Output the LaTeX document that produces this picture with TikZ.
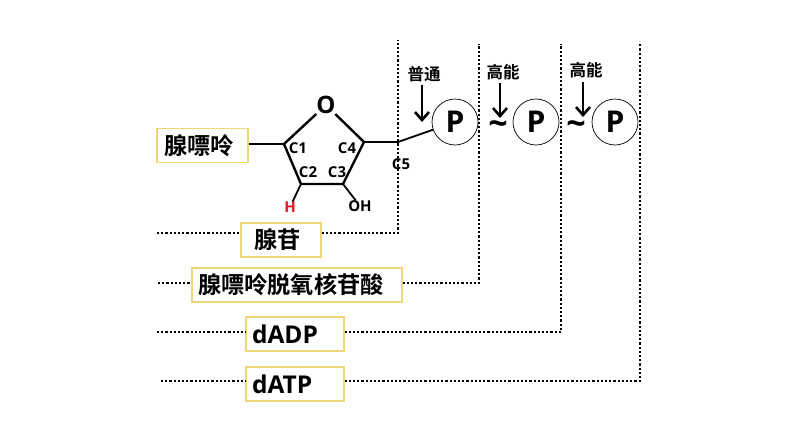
\documentclass[tikz,border=0pt]{standalone}
\usepackage{fontspec}
\setmainfont{Open Sans}[BoldFont={Open Sans Bold}]
\newfontfamily\cjk{Noto Sans CJK SC}[BoldFont={Noto Sans CJK SC Bold}]
\definecolor{boxline}{RGB}{240, 214, 120}
\definecolor{hydrogen}{RGB}{230, 20, 30}
\usetikzlibrary{arrows.meta}
\tikzset{
    namebox/.style={rectangle, draw=boxline, line width=1.2pt, fill=white, minimum height=34pt, inner ysep=0pt, inner xsep=0pt, align=left, font=\fontsize{23.2}{24}\selectfont\cjk\bfseries},
    acidbox/.style={namebox, font=\fontsize{24.5}{26}\selectfont\bfseries},
    atomlabel/.style={inner sep=0pt, font=\fontsize{15}{16}\selectfont\bfseries},
    phosphate/.style={circle, draw=black, line width=0.7pt, fill=white, minimum size=46pt, inner sep=0pt, font=\fontsize{30}{32}\selectfont\bfseries},
    linkmark/.style={inner sep=0pt, font=\fontsize{34}{36}\selectfont\bfseries},
    energylabel/.style={inner sep=0pt, font=\fontsize{16.5}{18}\selectfont\cjk\bfseries},
    bond/.style={line width=1.8pt},
    ringbond/.style={line width=2.4pt},
    boundary/.style={line width=2.4pt, dash pattern=on 2.2pt off 2pt},
    arrow/.style={line width=2.6pt, -{Straight Barb[length=8pt, width=14pt, line width=2.6pt]}}
}
\begin{document}
\begin{tikzpicture}[x=1pt, y=-1pt]
    \useasboundingbox (0, 0) rectangle (794, 447);
    % sugar ring
    \node[inner sep=0pt, font=\fontsize{24}{26}\selectfont\bfseries] (oxygen) at (326, 105) {O};
    \coordinate (cone) at (284, 144);
    \coordinate (ctwo) at (301, 184);
    \coordinate (cthree) at (343, 184);
    \coordinate (cfour) at (364, 142);
    \coordinate (cfive) at (398, 142);
    \draw[ringbond] (oxygen) -- (cone) -- (ctwo) -- (cthree) -- (cfour) -- (oxygen);
    \node[atomlabel] (labelone) at (298, 148) {C1};
    \node[atomlabel] (labeltwo) at (308, 172) {C2};
    \node[atomlabel] (labelthree) at (337, 172) {C3};
    \node[atomlabel] (labelfour) at (347, 148) {C4};
    \node[atomlabel] (labelfive) at (401, 164) {C5};
    \node[atomlabel, text=hydrogen] (hatom) at (290, 207) {H};
    \node[atomlabel] (hydroxyl) at (360, 206) {OH};
    % phosphates
    \node[phosphate] (pone) at (455, 122) {P};
    \node[phosphate] (ptwo) at (536, 122) {P};
    \node[phosphate] (pthree) at (615, 122) {P};
    \node[linkmark] (linktwo) at (498, 128) {\char"007E};
    \node[linkmark] (linkthree) at (576, 128) {\char"007E};
    \node[energylabel] (plain) at (424, 74) {普通};
    \node[energylabel] (highone) at (503, 72) {高能};
    \node[energylabel] (hightwo) at (586, 70) {高能};
    \coordinate (plaintip) at (422, 122);
    \coordinate (onetip) at (500, 118);
    \coordinate (twotip) at (583, 117);
    % name boxes
    \node[namebox, minimum width=91pt, text width=77pt] (adenine) at (202.5, 145.5) {腺嘌呤};
    \node[namebox, minimum width=80pt, text width=54pt] (adenosine) at (281, 240) {腺苷};
    \node[namebox, minimum width=210pt, text width=198pt] (damp) at (297, 285) {腺嘌呤脱氧核苷酸};
    \node[acidbox, minimum width=98pt, text width=86pt] (dadp) at (295, 334) {dADP};
    \node[acidbox, minimum width=98pt, text width=86pt] (datp) at (295, 384) {dATP};
    % bonds
    \draw[bond] (adenine.east |- cone) -- (cone);
    \draw[bond] (ctwo) -- (hatom);
    \draw[bond] (cthree) -- (hydroxyl);
    \draw[bond] (cfour) -- (cfive) -- (pone);
    \draw[arrow] (422, 85) -- (plaintip);
    \draw[arrow] (500, 83) -- (onetip);
    \draw[arrow] (583, 82) -- (twotip);
    % boundaries
    \coordinate (sidea) at (157, 233);
    \coordinate (sideb) at (158, 283);
    \coordinate (sidec) at (157, 332);
    \coordinate (sided) at (161, 381);
    \coordinate (topa) at (398, 40);
    \coordinate (topb) at (479, 44);
    \coordinate (topc) at (561, 44);
    \coordinate (topd) at (640, 44);
    \draw[boundary] (sidea) -- (adenosine.west |- sidea);
    \draw[boundary] (adenosine.east |- sidea) -- (topa |- sidea) -- (topa);
    \draw[boundary] (sideb) -- (damp.west |- sideb);
    \draw[boundary] (damp.east |- sideb) -- (topb |- sideb) -- (topb);
    \draw[boundary] (sidec) -- (dadp.west |- sidec);
    \draw[boundary] (dadp.east |- sidec) -- (topc |- sidec) -- (topc);
    \draw[boundary] (sided) -- (datp.west |- sided);
    \draw[boundary] (datp.east |- sided) -- (topd |- sided) -- (topd);
\end{tikzpicture}
\end{document}
